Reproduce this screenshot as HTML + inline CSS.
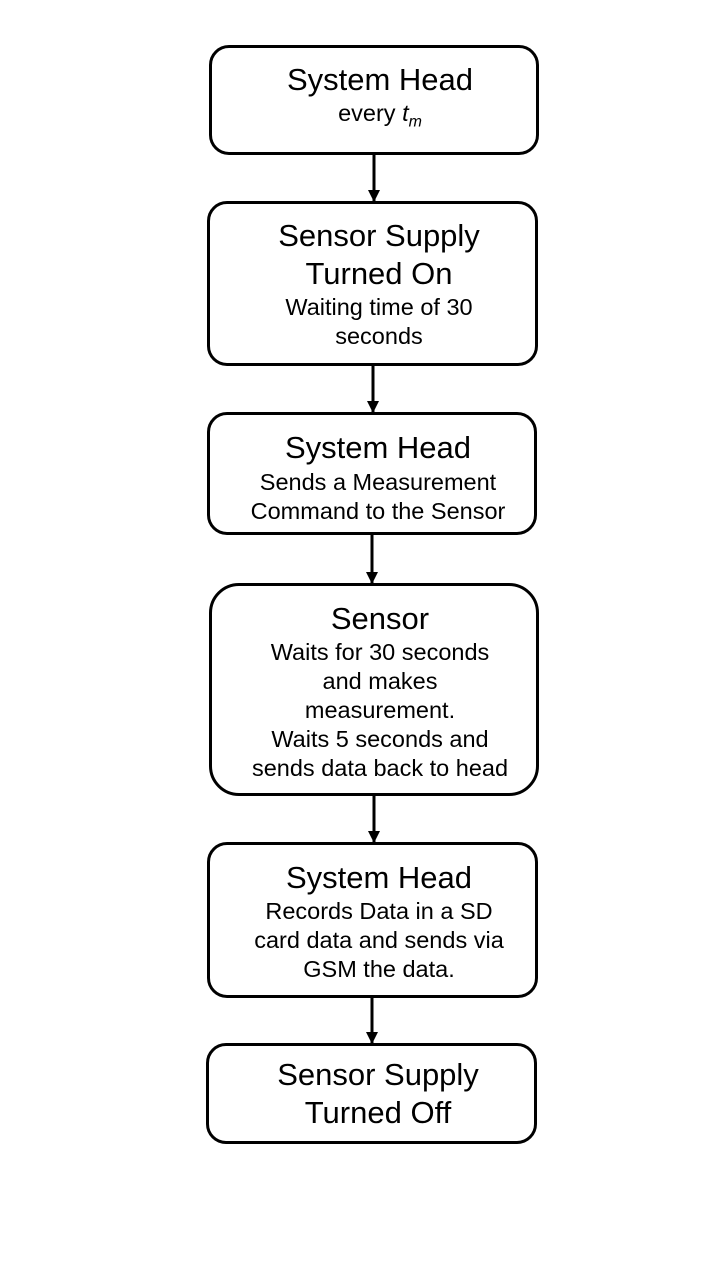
<!DOCTYPE html>
<html><head><meta charset="utf-8"><style>
body{margin:0;width:720px;height:1280px;background:#fff;position:relative;font-family:"Liberation Sans",Arial,sans-serif;overflow:hidden}
.box{position:absolute;border:3px solid #000;border-radius:20px;box-sizing:border-box;background:#fff}
.t{position:absolute;left:0;width:720px;text-align:center;color:#000;white-space:nowrap;line-height:1}
.h{font-size:31px}.b{font-size:23.5px}
svg{position:absolute;left:0;top:0}
</style></head><body>
<svg width="720" height="1280">
<defs><marker id="ah" markerWidth="14" markerHeight="14" refX="12" refY="6" orient="auto" markerUnits="userSpaceOnUse"><path d="M0,0 L12,6 L0,12 z" fill="#000"/></marker></defs>
<g stroke="#000" stroke-width="3">
<line x1="374" y1="153" x2="374" y2="202" marker-end="url(#ah)"/>
<line x1="373" y1="364" x2="373" y2="413" marker-end="url(#ah)"/>
<line x1="372" y1="533" x2="372" y2="584" marker-end="url(#ah)"/>
<line x1="374" y1="794" x2="374" y2="843" marker-end="url(#ah)"/>
<line x1="372" y1="996" x2="372" y2="1044" marker-end="url(#ah)"/>
</g></svg>
<div class="box" style="left:209px;top:45px;width:330px;height:110px"></div>
<div class="box" style="left:207px;top:201px;width:331px;height:165px"></div>
<div class="box" style="left:207px;top:412px;width:330px;height:123px"></div>
<div class="box" style="left:209px;top:583px;width:330px;height:213px;border-radius:30px"></div>
<div class="box" style="left:207px;top:842px;width:331px;height:156px"></div>
<div class="box" style="left:206px;top:1043px;width:331px;height:101px"></div>

<div class="t h" style="top:64px;left:20px">System Head</div>
<div class="t b" style="top:102px;left:20px">every <i>t<sub style="font-size:16px">m</sub></i></div>

<div class="t h" style="top:220px;left:19px">Sensor Supply</div>
<div class="t h" style="top:258px;left:19px">Turned On</div>
<div class="t b" style="top:296px;left:19px">Waiting time of 30</div>
<div class="t b" style="top:325px;left:19px">seconds</div>

<div class="t h" style="top:432px;left:18px">System Head</div>
<div class="t b" style="top:471px;left:18px">Sends a Measurement</div>
<div class="t b" style="top:500px;left:18px">Command to the Sensor</div>

<div class="t h" style="top:603px;left:20px">Sensor</div>
<div class="t b" style="top:641px;left:20px">Waits for 30 seconds</div>
<div class="t b" style="top:670px;left:20px">and makes</div>
<div class="t b" style="top:699px;left:20px">measurement.</div>
<div class="t b" style="top:728px;left:20px">Waits 5 seconds and</div>
<div class="t b" style="top:757px;left:20px">sends data back to head</div>

<div class="t h" style="top:862px;left:19px">System Head</div>
<div class="t b" style="top:900px;left:19px">Records Data in a SD</div>
<div class="t b" style="top:929px;left:19px">card data and sends via</div>
<div class="t b" style="top:958px;left:19px">GSM the data.</div>

<div class="t h" style="top:1059px;left:18px">Sensor Supply</div>
<div class="t h" style="top:1097px;left:18px">Turned Off</div>
</body></html>
